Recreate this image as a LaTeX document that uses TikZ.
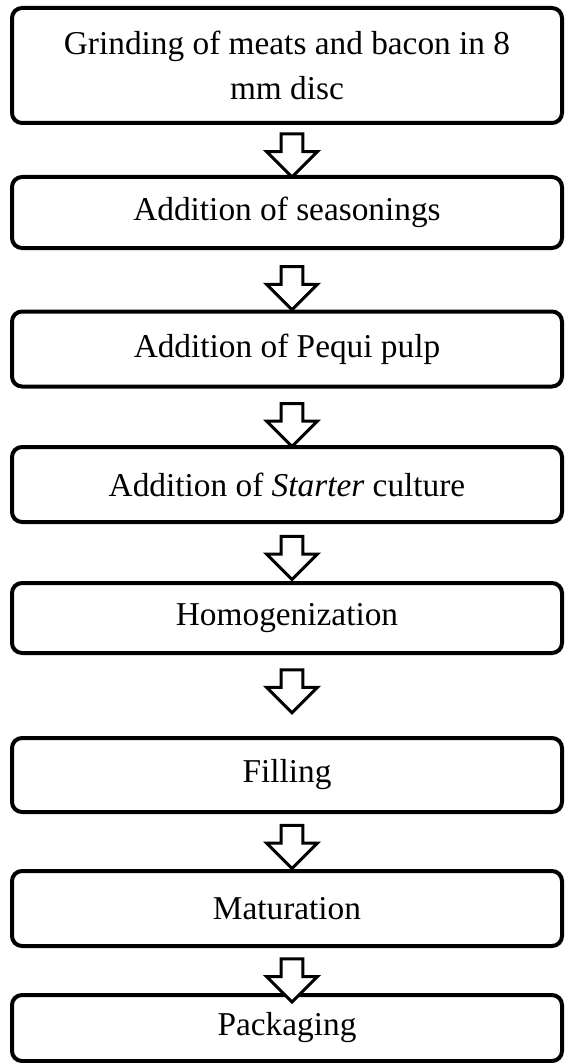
\documentclass[tikz,border=0pt]{standalone}
\usepackage{fontspec}
\setmainfont{Liberation Serif}
\usetikzlibrary{shapes.arrows}
\begin{document}
\begin{tikzpicture}[x=0.36pt, y=-0.36pt,
  font=\fontsize{12}{16.2}\selectfont,
  stepbox/.style={draw, line width=1.44pt, rounded corners=3.6pt,
    minimum width=198pt, align=center, inner sep=0pt},
  flowarrow/.style={single arrow, draw, fill=white, line width=1.08pt,
    shape border rotate=270, inner sep=3.4pt,
    single arrow head extend=5.2pt, minimum height=15.48pt}]
% Page frame in pixel units (566 x 1063)
\useasboundingbox (0,0) rectangle (566,1063);

% Process steps, centred at x = 287
\node[stepbox, minimum height=41.4pt]  (grind)  at (287,65.5)  {Grinding of meats and bacon in 8\\mm disc};
\node[stepbox, minimum height=25.56pt] (season) at (287,212.5) {Addition of seasonings};
\node[stepbox, minimum height=27pt]    (pulp)   at (287,349)   {Addition of Pequi pulp};
\node[stepbox, minimum height=27pt]    (starter) at (287,484.5) {Addition of \textit{Starter} culture};
\node[stepbox, minimum height=25.2pt]  (homog)  at (287,618)   {Homogenization};
\node[stepbox, minimum height=26.64pt] (fill)   at (287,775)   {Filling};
\node[stepbox, minimum height=27pt]    (matur)  at (287,908.5) {Maturation};
\node[stepbox, minimum height=23.76pt] (pack)   at (287,1028)  {Packaging};

% Block arrows between the steps
\path (grind.south)   -- (season.north)  node[flowarrow, xshift=1.8pt, pos=0.5]  (a1) {};
\path (season.south)  -- (pulp.north)    node[flowarrow, xshift=1.8pt, pos=0.55] (a2) {};
\path (pulp.south)    -- (starter.north) node[flowarrow, xshift=1.8pt, pos=0.55] (a3) {};
\path (starter.south) -- (homog.north)   node[flowarrow, xshift=1.8pt, pos=0.5]  (a4) {};
\path (homog.south)   -- (fill.north)    node[flowarrow, xshift=1.8pt, pos=0.38] (a5) {};
\path (fill.south)    -- (matur.north)   node[flowarrow, xshift=1.8pt, pos=0.5]  (a6) {};
\path (matur.south)   -- (pack.north)    node[flowarrow, xshift=1.8pt, pos=0.6]  (a7) {};
\end{tikzpicture}
\end{document}
